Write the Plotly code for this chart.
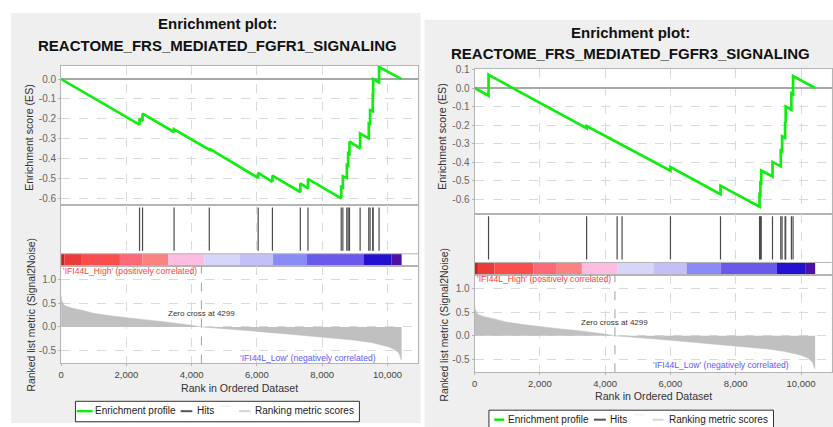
import plotly.graph_objects as go

W, H = 833, 427

# ------------------------------------------------------------------ data
N_GENES = 10433
ZERO_CROSS = 4299
X_TICKS = [0, 2000, 4000, 6000, 8000, 10000]
LEFT_ES_TICKS = [0.0, -0.1, -0.2, -0.3, -0.4, -0.5, -0.6]
RIGHT_ES_TICKS = [0.1, 0.0, -0.1, -0.2, -0.3, -0.4, -0.5, -0.6]
METRIC_TICKS = [1.0, 0.5, 0.0, -0.5]
X_LABEL = "Rank in Ordered Dataset"
ES_LABEL = "Enrichment score (ES)"
METRIC_LABEL = "Ranked list metric (Signal2Noise)"
PHENO_HIGH = "'IFI44L_High' (positively correlated)"
PHENO_LOW = "'IFI44L_Low' (negatively correlated)"
LEGEND_LABELS = ["Enrichment profile", "Hits", "", "Ranking metric scores"]

LEFT_TITLE = "REACTOME_FRS_MEDIATED_FGFR1_SIGNALING"
LEFT_HITS = [2403, 2495, 3461, 4540, 6037, 6474, 7329, 7563, 8581, 8632,
             8754, 8794, 8835, 9161, 9426, 9466, 9548, 9560, 9741]
LEFT_ES_RANK = [0, 2403, 2403, 2495, 2495, 3461, 3461, 4540, 4540, 6037, 6037,
                6474, 6474, 7329, 7329, 7563, 7563, 8581, 8581, 8632, 8632,
                8754, 8754, 8794, 8794, 8835, 8835, 9161, 9161, 9426, 9426,
                9466, 9466, 9548, 9548, 9560, 9560, 9741, 9741, 10433]
LEFT_ES = [0.0, -0.229, -0.199, -0.211, -0.174, -0.266, -0.253, -0.355, -0.350,
           -0.497, -0.472, -0.517, -0.486, -0.568, -0.525, -0.550, -0.502,
           -0.600, -0.542, -0.546, -0.489, -0.497, -0.432, -0.435, -0.373,
           -0.376, -0.315, -0.348, -0.274, -0.298, -0.224, -0.226, -0.157,
           -0.162, -0.078, -0.079, 0.0, -0.017, 0.061, 0.0]

RIGHT_TITLE = "REACTOME_FRS_MEDIATED_FGFR3_SIGNALING"
RIGHT_HITS = [427, 3432, 4366, 4518, 6000, 7533, 8730, 8755, 8781, 9126,
              9380, 9420, 9512, 9530, 9705, 9756]
RIGHT_ES_RANK = [0, 427, 427, 3432, 3432, 4366, 4366, 4518, 4518, 6000, 6000,
                 7533, 7533, 8730, 8730, 8755, 8755, 8781, 8781, 9126, 9126,
                 9380, 9380, 9420, 9420, 9512, 9512, 9530, 9530, 9705, 9705,
                 9756, 9756, 10433]
RIGHT_ES = [0.0, -0.041, 0.071, -0.216, -0.205, -0.294, -0.292, -0.306, -0.304,
            -0.446, -0.426, -0.572, -0.526, -0.640, -0.573, -0.575, -0.511,
            -0.513, -0.444, -0.477, -0.398, -0.422, -0.337, -0.341, -0.260,
            -0.269, -0.183, -0.185, -0.100, -0.117, -0.028, -0.033, 0.065, 0.0]

# ranked list metric (shared by both panels, same dataset)
RANK_PTS = [0, 20, 100, 300, 600, 1000, 1500, 2000, 2500, 3000, 3500, 4000,
            4299, 5000, 6000, 7000, 8000, 9000, 9500, 10000, 10200, 10350,
            10410, 10433]
METRIC = [0.66, 0.56, 0.45, 0.40, 0.355, 0.285, 0.235, 0.19, 0.155, 0.12,
          0.08, 0.035, 0.0, -0.035, -0.095, -0.155, -0.215, -0.28, -0.33,
          -0.41, -0.47, -0.55, -0.68, -0.70]

# phenotype colour bar
CB_EDGES = [0, 102, 611, 1802, 2495, 3288, 4387, 5476, 6494, 7532, 9262,
            10127, 10433]
CB_COLORS = ["#d41c1c", "#ea3a3a", "#fa4e4e", "#fc6878", "#fc8282", "#fcbde0",
             "#d6d6f8", "#c3c0f7", "#8a8af7", "#6a5aeb", "#2410d0", "#4c12a6"]

# ------------------------------------------------------------------ style / layout helpers
FONT = "Liberation Sans, Arial, sans-serif"
GREEN = "#10ee10"
FRAME = "#b4b4b4"
GRID = "#dadada"


def px(x):
    return x / W


def py(y):
    return 1 - y / H


PANELS = [
    dict(title=LEFT_TITLE, hits=LEFT_HITS, es_x=LEFT_ES_RANK, es_y=LEFT_ES,
         es_ticks=LEFT_ES_TICKS,
         x0=58.3, x1=416.7, es_top=61.7, es_bot=202.7, hits_bot=264.0,
         rk_bot=362.7, es_range=[-0.635, 0.066], rk_range=[-0.768, 1.28],
         t1=19.0, t2=40.7, tcx=215.5,
         bg=(8, 8, 419, 423), es_lab=(26.5, 134), rk_lab=(28.3, 313),
         xlab_y=387.3, high=(59.3, 269.0), low_y=356.7,
         leg_box=(72.7, 401, 357.7, 421.7), leg_y=411,
         leg_items=[(74, 90, 91.7), (178.3, 190, 193.3), (216.7, 228.3, None),
                    (236.7, 248.3, 251.7)]),
    dict(title=RIGHT_TITLE, hits=RIGHT_HITS, es_x=RIGHT_ES_RANK, es_y=RIGHT_ES,
         es_ticks=RIGHT_ES_TICKS,
         x0=473.3, x1=831.7, es_top=64.3, es_bot=211.7, hits_bot=272.7,
         rk_bot=371.7, es_range=[-0.68, 0.105], rk_range=[-0.77, 1.29],
         t1=28.0, t2=49.3, tcx=630.2,
         bg=(423, 15, 833, 427), es_lab=(441, 133), rk_lab=(443, 323),
         xlab_y=396.0, high=(474.3, 277.7), low_y=364.7,
         leg_box=(487.7, 410, 773.3, 432), leg_y=419.6,
         leg_items=[(493, 503, 505.7), (593, 605, 608.5), (633, 643, None),
                    (652, 663, 667)]),
]

fig = go.Figure()
layout = dict(
    width=W, height=H, margin=dict(l=0, r=0, t=0, b=0),
    paper_bgcolor="white", plot_bgcolor="white", showlegend=False,
    font=dict(family=FONT, color="#333"),
)
shapes = []
annotations = []


def note(x, y, text, size, color, xanchor="center", yanchor="middle", angle=0,
         xref="paper", yref="paper"):
    annotations.append(dict(xref=xref, yref=yref, x=x, y=y, text=text,
                            showarrow=False, xanchor=xanchor, yanchor=yanchor,
                            textangle=angle, borderpad=0,
                            font=dict(size=size, color=color, family=FONT)))


def fmt1(values):
    return [f"{v:.1f}" for v in values]


for k, p in enumerate(PANELS):
    n_es, n_hit, n_rk = 3 * k + 1, 3 * k + 2, 3 * k + 3

    def ax(n):
        return "" if n == 1 else str(n)

    xdom = [px(p["x0"]), px(p["x1"])]
    es_dom = [py(p["es_bot"]), py(p["es_top"])]
    hit_dom = [py(p["hits_bot"]), py(p["es_bot"])]
    rk_dom = [py(p["rk_bot"]), py(p["hits_bot"])]

    # gray panel background
    bx0, by0, bx1, by1 = p["bg"]
    shapes.append(dict(type="rect", xref="paper", yref="paper", layer="below",
                       x0=px(bx0), x1=px(bx1), y0=py(by1), y1=py(by0),
                       fillcolor="#efefef", line=dict(width=0)))
    # white plot areas
    for n in (n_es, n_hit, n_rk):
        shapes.append(dict(type="rect", xref=f"x{ax(n)} domain", yref=f"y{ax(n)} domain",
                           layer="below", x0=0, x1=1, y0=0, y1=1,
                           fillcolor="white", line=dict(width=0)))

    common_x = dict(range=[0, 10940], tickvals=X_TICKS, showgrid=True,
                    gridcolor=GRID, griddash="dash", gridwidth=1,
                    showline=True, mirror=True, linecolor=FRAME, linewidth=1,
                    zeroline=False, domain=xdom)
    layout[f"xaxis{ax(n_es)}"] = dict(common_x, anchor=f"y{ax(n_es)}",
                                      showticklabels=False, ticks="")
    layout[f"xaxis{ax(n_hit)}"] = dict(common_x, anchor=f"y{ax(n_hit)}",
                                       showticklabels=False, ticks="")
    layout[f"xaxis{ax(n_rk)}"] = dict(common_x, anchor=f"y{ax(n_rk)}",
                                      showticklabels=True,
                                      ticktext=[f"{v:,d}" for v in X_TICKS],
                                      ticks="outside", ticklen=2, tickcolor=FRAME,
                                      tickfont=dict(size=9.5, color="#444"))
    layout[f"yaxis{ax(n_es)}"] = dict(
        domain=es_dom, anchor=f"x{ax(n_es)}", range=p["es_range"],
        tickvals=p["es_ticks"], ticktext=fmt1(p["es_ticks"]),
        showgrid=True, gridcolor=GRID,
        griddash="dash", showline=True, mirror=True, linecolor=FRAME,
        zeroline=True, zerolinecolor="#a8a8a8", zerolinewidth=1.5,
        ticks="outside", ticklen=2, tickcolor=FRAME,
        tickfont=dict(size=10, color="#666"))
    layout[f"yaxis{ax(n_hit)}"] = dict(
        domain=hit_dom, anchor=f"x{ax(n_hit)}", range=[0, 1], showgrid=False,
        showticklabels=False, ticks="", showline=True, mirror=True,
        linecolor=FRAME, zeroline=False)
    layout[f"yaxis{ax(n_rk)}"] = dict(
        domain=rk_dom, anchor=f"x{ax(n_rk)}", range=p["rk_range"],
        tickvals=METRIC_TICKS, ticktext=fmt1(METRIC_TICKS),
        showgrid=True, gridcolor=GRID,
        griddash="dash", showline=True, mirror=True, linecolor=FRAME,
        zeroline=False, ticks="outside", ticklen=2, tickcolor=FRAME,
        tickfont=dict(size=10, color="#666"))

    # ranked list metric (area)
    fig.add_trace(go.Scatter(x=RANK_PTS, y=METRIC, mode="lines", fill="tozeroy",
                             fillcolor="#c0c0c0", line=dict(width=0.5, color="#c0c0c0"),
                             xaxis=f"x{ax(n_rk)}", yaxis=f"y{ax(n_rk)}",
                             hoverinfo="skip"))
    # colour bar
    centers = [(a + b) / 2 for a, b in zip(CB_EDGES[:-1], CB_EDGES[1:])]
    widths = [b - a for a, b in zip(CB_EDGES[:-1], CB_EDGES[1:])]
    fig.add_trace(go.Bar(x=centers, y=[0.2] * len(centers), width=widths, base=0,
                         marker=dict(color=CB_COLORS, line=dict(width=0)),
                         xaxis=f"x{ax(n_hit)}", yaxis=f"y{ax(n_hit)}",
                         hoverinfo="skip"))
    # hits
    hx, hy = [], []
    for h in p["hits"]:
        hx += [h, h, None]
        hy += [0.25, 0.965, None]
    fig.add_trace(go.Scatter(x=hx, y=hy, mode="lines",
                             line=dict(color="#4a4a4a", width=1.2),
                             xaxis=f"x{ax(n_hit)}", yaxis=f"y{ax(n_hit)}",
                             hoverinfo="skip"))
    # enrichment profile
    fig.add_trace(go.Scatter(x=p["es_x"], y=p["es_y"], mode="lines",
                             line=dict(color=GREEN, width=2.7),
                             xaxis=f"x{ax(n_es)}", yaxis=f"y{ax(n_es)}",
                             hoverinfo="skip", cliponaxis=False))

    # colour bar top border
    shapes.append(dict(type="line", xref=f"x{ax(n_hit)} domain", yref=f"y{ax(n_hit)}",
                       x0=0, x1=1, y0=0.2, y1=0.2, line=dict(color=FRAME, width=1)))
    # zero cross
    shapes.append(dict(type="line", xref=f"x{ax(n_rk)}", yref=f"y{ax(n_rk)} domain",
                       x0=ZERO_CROSS, x1=ZERO_CROSS, y0=0, y1=1,
                       line=dict(color="#a0a0a0", width=1, dash="dash")))
    note(ZERO_CROSS, 0.28, f"Zero cross at {ZERO_CROSS}", 8, "#333",
         xref=f"x{ax(n_rk)}", yref=f"y{ax(n_rk)}")
    # phenotype labels
    note(px(p["high"][0]), py(p["high"][1]), PHENO_HIGH, 8.6, "#ff3c3c",
         xanchor="left")
    note(5450, py(p["low_y"]), PHENO_LOW, 8.6, "#5a5aff", xanchor="left",
         xref=f"x{ax(n_rk)}")
    # titles
    note(px(p["tcx"]), py(p["t1"]), "<b>Enrichment plot:</b>", 15, "#111")
    note(px(p["tcx"]), py(p["t2"]), f"<b>{p['title']}</b>", 15, "#111")
    # axis titles
    note(px(p["es_lab"][0]), py(p["es_lab"][1]), ES_LABEL, 10.6, "#333", angle=-90)
    note(px(p["rk_lab"][0]), py(p["rk_lab"][1]), METRIC_LABEL, 10.4, "#333", angle=-90)
    note(px((p["x0"] + p["x1"]) / 2), py(p["xlab_y"]), X_LABEL, 10.6, "#333")
    # legend (drawn box)
    lx0, ly0, lx1, ly1 = p["leg_box"]
    shapes.append(dict(type="rect", xref="paper", yref="paper",
                       x0=px(lx0), x1=px(lx1), y0=py(ly1), y1=py(ly0),
                       fillcolor="white", line=dict(color="#333", width=1)))
    leg_colors = [GREEN, "#555555", "#f2f2f2", "#d4d4d4"]
    leg_widths = [2.5, 2, 1.5, 2]
    for (a, b, tx), lab, c, lw in zip(p["leg_items"], LEGEND_LABELS, leg_colors, leg_widths):
        yy = p["leg_y"] if lab else p["leg_y"] - 5
        shapes.append(dict(type="line", xref="paper", yref="paper",
                           x0=px(a), x1=px(b), y0=py(yy), y1=py(yy),
                           line=dict(color=c, width=lw)))
        if lab:
            note(px(tx), py(p["leg_y"] - 0.3), lab, 10, "#222", xanchor="left")

layout["shapes"] = shapes
layout["annotations"] = annotations
fig.update_layout(**layout)
fig.write_html("out.html")
